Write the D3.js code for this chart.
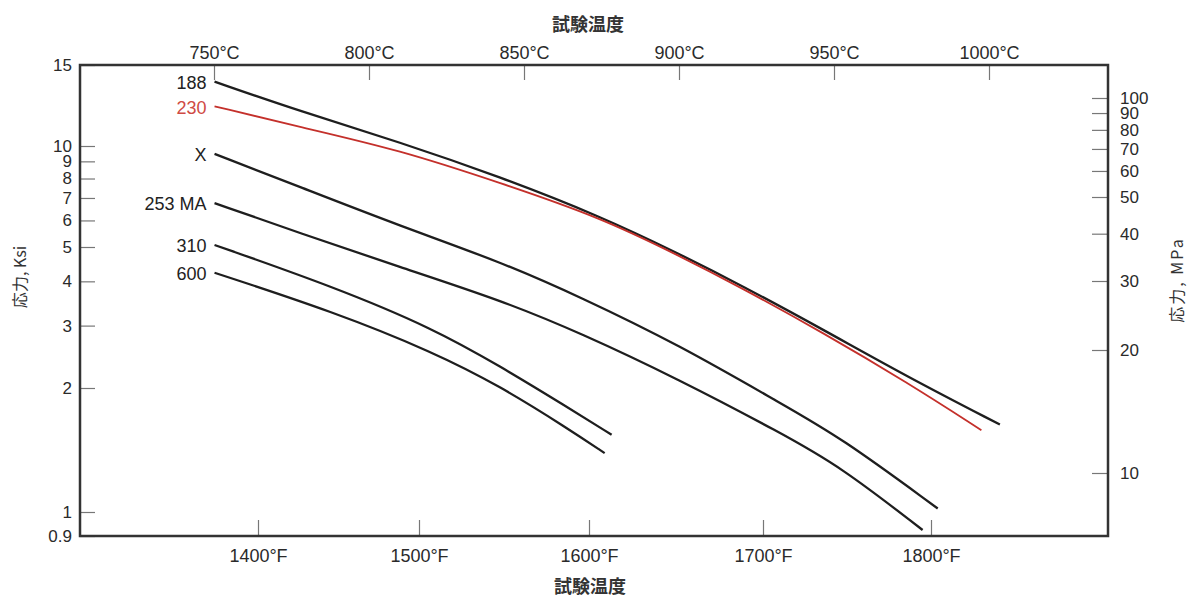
<!DOCTYPE html>
<html>
<head>
<meta charset="utf-8">
<script src="https://cdn.jsdelivr.net/npm/d3@7.9.0/dist/d3.min.js"></script>
<style>
  body { margin: 0; background: #fff; }
  svg { display: block; font-family: "Liberation Sans", Arial, sans-serif; }
</style>
</head>
<body>
<svg></svg>
<script>
const width = 1187;
const height = 599;

// series (temperature in °F, stress in ksi)
const names = ["188", "230", "X", "253 MA", "310", "600"];
const temp188 = [1373, 1426, 1488, 1548, 1606, 1652, 1687, 1736, 1786, 1841];
const ksi188  = [13.8, 11.9, 10.2, 8.08, 6.19, 4.78, 3.91, 2.92, 2.15, 1.63];
const temp230 = [1373, 1426, 1488, 1548, 1606, 1652, 1687, 1736, 1786, 1830];
const ksi230  = [12.2, 11.0, 9.73, 7.76, 6.14, 4.72, 3.85, 2.86, 2.07, 1.58];
const tempX   = [1373, 1426, 1488, 1548, 1595, 1652, 1710, 1746, 1804];
const ksiX    = [9.47, 7.55, 5.78, 4.54, 3.61, 2.64, 1.84, 1.52, 1.02];
const temp253 = [1373, 1426, 1488, 1548, 1595, 1652, 1710, 1746, 1795];
const ksi253  = [6.76, 5.5, 4.39, 3.54, 2.86, 2.11, 1.56, 1.29, 0.924];
const temp310 = [1373, 1447, 1508, 1548, 1587, 1613];
const ksi310  = [5.07, 3.86, 2.95, 2.3, 1.8, 1.54];
const temp600 = [1373, 1447, 1508, 1548, 1587, 1609];
const ksi600  = [4.23, 3.28, 2.53, 2.02, 1.6, 1.39];

// tick labels
const ticksF = [1400, 1500, 1600, 1700, 1800];
const ticksC = [750, 800, 850, 900, 950, 1000];
const ticksKsi = [15, 10, 9, 8, 7, 6, 5, 4, 3, 2, 1, 0.9];
const ticksMPa = [10, 20, 30, 40, 50, 60, 70, 80, 90, 100];

const temps = [temp188, temp230, tempX, temp253, temp310, temp600];
const stresses = [ksi188, ksi230, ksiX, ksi253, ksi310, ksi600];
const series = names.map((name, i) => ({
  name,
  values: temps[i].map((t, j) => ({ t, s: stresses[i][j] }))
}));

const plot = { left: 80, right: 1108, top: 65, bottom: 536 };

const svg = d3.select("svg").attr("width", width).attr("height", height);
svg.append("rect").attr("width", width).attr("height", height).attr("fill", "#fff");

// scales follow the printed tick spacing of the original figure
const xF = d3.scaleLinear().domain(ticksF).range([258, 419, 589, 763, 931]);
const xC = d3.scaleLinear().domain([750, 1000]).range([214, 989]);
const yKsi = d3.scaleLog().domain([0.9, 1, 2, 5, 10, 15]).range([536, 512, 388, 247, 146, 65]);
const yMPa = d3.scaleLog().domain([10, 20, 30, 50, 100]).range([473, 350, 281, 197, 98]);

const styleAxis = g => {
  g.select(".domain").remove();
  g.selectAll(".tick line").attr("stroke", "#777").attr("stroke-width", 1.2);
  g.selectAll(".tick text").attr("fill", "#2a2a2a").attr("font-size", 17)
    .attr("font-family", "'Liberation Sans', Arial, sans-serif");
};

svg.append("g")
  .attr("transform", `translate(${plot.left},0)`)
  .call(d3.axisLeft(yKsi).tickValues(ticksKsi).tickFormat(d => d).tickSize(-15).tickPadding(8))
  .call(styleAxis);

svg.append("g")
  .attr("transform", `translate(${plot.right},0)`)
  .call(d3.axisRight(yMPa).tickValues(ticksMPa).tickFormat(d => d).tickSize(-16).tickPadding(12))
  .call(styleAxis);

svg.append("g")
  .attr("transform", `translate(0,${plot.top})`)
  .call(d3.axisTop(xC).tickValues(ticksC).tickFormat(d => `${d}°C`).tickSize(-15).tickPadding(6))
  .call(styleAxis)
  .call(g => g.selectAll(".tick text").attr("font-size", 18));

svg.append("g")
  .attr("transform", `translate(0,${plot.bottom})`)
  .call(d3.axisBottom(xF).tickValues(ticksF).tickFormat(d => `${d}°F`).tickSize(-16).tickPadding(13))
  .call(styleAxis)
  .call(g => g.selectAll(".tick text").attr("font-size", 18));

// frame
svg.append("rect")
  .attr("x", plot.left).attr("y", plot.top)
  .attr("width", plot.right - plot.left).attr("height", plot.bottom - plot.top)
  .attr("fill", "none").attr("stroke", "#333").attr("stroke-width", 2.5);

const line = d3.line()
  .x(d => xF(d.t))
  .y(d => yKsi(d.s))
  .curve(d3.curveBasis);

const lineColor = d => d.name === "230" ? "#c4302b" : "#1e1e1e";

svg.append("g")
  .selectAll("path")
  .data(series)
  .join("path")
  .attr("fill", "none")
  .attr("stroke", lineColor)
  .attr("stroke-width", d => d.name === "230" ? 1.8 : 2.3)
  .attr("d", d => line(d.values));

// series labels at the start of each curve
svg.append("g")
  .selectAll("text")
  .data(series)
  .join("text")
  .attr("x", d => xF(d.values[0].t) - 8)
  .attr("y", d => yKsi(d.values[0].s) + 1)
  .attr("dy", "0.35em")
  .attr("text-anchor", "end")
  .attr("font-size", 18)
  .attr("fill", d => d.name === "230" ? "#cf4a44" : "#222")
  .text(d => d.name);

// axis titles
const cjk = "'Noto Sans CJK JP', 'Noto Sans CJK SC', sans-serif";
svg.append("text")
  .attr("x", 588).attr("y", 31)
  .attr("text-anchor", "middle")
  .attr("font-family", cjk).attr("font-weight", "bold").attr("font-size", 18)
  .attr("fill", "#333")
  .text("試験温度");

svg.append("text")
  .attr("x", 590).attr("y", 593)
  .attr("text-anchor", "middle")
  .attr("font-family", cjk).attr("font-weight", "bold").attr("font-size", 18)
  .attr("fill", "#333")
  .text("試験温度");

svg.append("text")
  .attr("transform", "translate(26,277) rotate(-90)")
  .attr("text-anchor", "middle")
  .attr("font-family", cjk).attr("font-size", 16)
  .attr("fill", "#333")
  .text("応力, Ksi");

svg.append("text")
  .attr("transform", "translate(1183,280) rotate(-90)")
  .attr("text-anchor", "middle")
  .attr("font-family", cjk).attr("font-size", 16)
  .attr("letter-spacing", 2)
  .attr("fill", "#333")
  .text("応力, MPa");
</script>
</body>
</html>
